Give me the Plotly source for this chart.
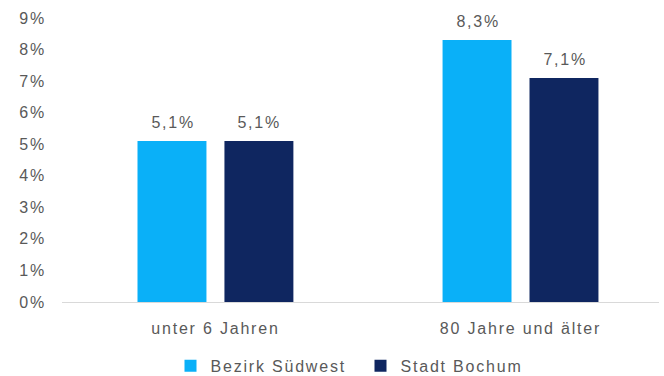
import plotly.graph_objects as go

# Data
categories = ["unter 6 Jahren", "80 Jahre und älter"]
bezirk_suedwest = [5.1, 8.3]
stadt_bochum = [5.1, 7.1]
series_names = ["Bezirk Südwest", "Stadt Bochum"]
y_ticks = [0, 1, 2, 3, 4, 5, 6, 7, 8, 9]
y_tick_labels = [f"{t}%" for t in y_ticks]

colors = ["#0AB0F8", "#0F2660"]
text_color = "#595959"
font_family = "Liberation Sans, Arial, sans-serif"
fsize = 16

fig = go.Figure()
for name, vals, col in zip(series_names, [bezirk_suedwest, stadt_bochum], colors):
    fig.add_trace(go.Bar(
        x=categories, y=vals, name=name,
        marker=dict(color=col, line=dict(width=0)),
    ))

# value labels above each bar
offsets_px = [-43.5, 43]
for vals, dx in zip([bezirk_suedwest, stadt_bochum], offsets_px):
    for cat, v in zip(categories, vals):
        fig.add_annotation(
            x=cat, y=v, text=f"{v:.1f}".replace(".", ",") + "%",
            showarrow=False, yanchor="bottom", xshift=dx + 1, yshift=8,
            font=dict(size=fsize, color=text_color, family=font_family),
        )

fig.update_layout(
    width=664, height=376,
    margin=dict(l=62, r=5, t=18, b=74, autoexpand=False),
    paper_bgcolor="white", plot_bgcolor="white",
    barmode="group", bargap=0.43, bargroupgap=0.207,
    font=dict(family=font_family, size=fsize, color=text_color),
    showlegend=True,
    legend=dict(
        orientation="h", x=0.50, xanchor="center", y=-0.225, yanchor="middle",
        font=dict(size=fsize, color=text_color), itemwidth=30,
        entrywidth=145, traceorder="normal",
    ),
    xaxis=dict(
        range=[-0.503, 1.454], showgrid=False, zeroline=False,
        showline=True, linecolor="#D9D9D9", linewidth=1,
        ticks="", ticklabelstandoff=12,
        tickfont=dict(size=fsize, color=text_color),
    ),
    yaxis=dict(
        range=[0, 9], tickmode="array", tickvals=y_ticks, ticktext=y_tick_labels,
        showgrid=False, zeroline=False, showline=False,
        ticks="", ticklabelstandoff=15,
        tickfont=dict(size=fsize, color=text_color),
    ),
)

# slightly wider letter spacing for all chart text
spacing_js = """
var st = document.createElement('style');
st.textContent = '.js-plotly-plot svg text { letter-spacing: 1.8px; }';
document.head.appendChild(st);
"""

fig.write_html("out.html", post_script=spacing_js)
